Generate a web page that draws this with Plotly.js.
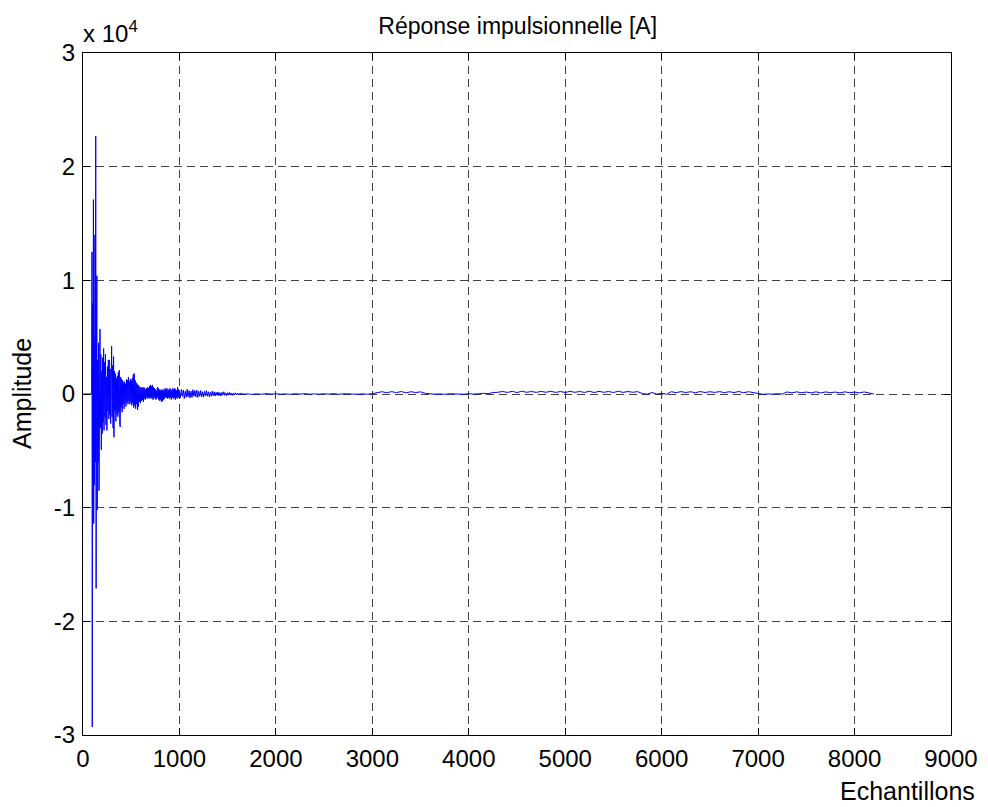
<!DOCTYPE html>
<html>
<head>
<meta charset="utf-8">
<script src="https://cdn.plot.ly/plotly-3.0.1.min.js"></script>
<style>html,body{margin:0;padding:0;background:#fff;}#chart{width:988px;height:807px;}</style>
</head>
<body>
<div id="chart"></div>
<script>
// Early part of the impulse response: sample index and amplitude
var earlySamples = [1,85,90,93,96,100,104,108,111,115,119,124,128,132,136,140,144,148,152,157,162,166,171,176,180,185,190,195,199,204,209,214,218,223,228,233,238,243,248,253,258,263,268,272,277,282,287,292,297,302,307,312,317,321,326,331,336,341,346,351,356,361,366,371,376,381,386,391,396,401,406,411,416,421,426,431,436,441,446,451,456,461,466,471,476,481,486,491,496,501,506,511,516,521,526,531,536,541,546,551,556,561,566,571,576,581,586,591,596,601,606,611,616,621,626,631,636,641,646,651,656,661,666,671,676,681,686,691,696,701,706,711,716,721,726,731,736,741,746,751,756,761,766,771,776,781,786,791,796,801,806,811,816,821,826,831,836,841,846,851,856,861,866,871,876,881,886,891,896,901,906,911,916,921,926,931,936,941,946,951,956,961,966,971,976,981,986,991,996];
var earlyAmplitude = [0,0,0,12500,-29300,8000,-11000,17100,-11400,5000,-8000,14000,-6000,22700,-17100,6000,10400,-10200,3000,-6000,4500,-8500,2500,5700,-3000,3500,-4900,2000,-3500,3200,-2500,4000,-3200,2800,-2000,3500,-2700,1500,-3200,2400,-1500,3000,-2200,3000,-1800,2200,-2600,3000,4200,-2000,2500,-3000,3300,-3800,2000,-1500,1800,-2400,1400,-1800,1600,-2000,1900,-1600,2100,-2700,-2900,1500,-1200,1300,-1600,1200,-900,1000,-1300,1100,-800,900,-1100,1300,-700,1200,-900,1500,-600,1100,-900,1300,-700,1200,-1000,1400,-800,1700,-1200,1800,-1000,1200,-1300,1000,-900,900,-1400,800,-1100,700,-700,600,-800,500,-600,600,-500,500,-700,600,-400,500,-500,400,-300,500,-400,600,-300,500,-400,700,-300,800,-400,700,-300,800,-500,600,-400,500,-300,400,-500,300,-400,600,-300,500,-500,400,-600,300,-500,400,-700,300,-600,400,-500,300,-400,500,-300,400,-300,500,-400,300,-300,400,-400,500,-300,400,-500,300,-300,500,-400,400,-300,500,-500,400,-300,300,-400,600,-300,400,-300];

// Middle part: samples 1000..1690, one value every 10 samples
var midStart = 1000, midStep = 10;
var midAmplitude = [300,-350,400,-200,350,-400,250,-300,420,-250,
  300,-350,250,-300,380,-200,300,-250,350,-300,
  250,-200,300,-250,200,-280,250,-150,300,-200,
  200,-250,150,-200,250,-150,200,-180,150,-120,
  180,-150,120,-180,150,-100,200,-120,100,-150,
  120,-80,150,-100,90,-120,80,-60,100,-90,
  70,-80,60,-50,90,-60,50,-70,40,-50];

// Tail: samples 1700..8200, one value every 50 samples
var tailStart = 1700, tailStep = 50;
var tailAmplitude = [20,-30,10,-20,30,-10,20,-20,10,-30,20,-10,30,-20,10,-20,20,-10,30,-30,20,-10,20,-20,10,-20,30,
  120,200,110,210,120,220,100,200,130,190,60,
  20,-20,10,-30,20,-10,20,-20,30,-10,20,
  60,20,130,150,
  220,140,230,130,240,150,220,140,230,150,240,140,220,130,230,150,220,140,240,130,230,150,220,130,240,140,220,150,210,
  40,-20,130,-10,60,-20,
  200,120,210,130,200,110,220,130,200,140,210,120,200,130,220,110,200,130,
  20,-30,10,-20,30,-10,
  180,100,190,110,170,100,190,90,180,120,170,100,190,110,170,100,180,90,
  0];

var xTicks = [0,1000,2000,3000,4000,5000,6000,7000,8000,9000];
var yTicks = [-30000,-20000,-10000,0,10000,20000,30000];
var yTickLabels = ['-3','-2','-1','0','1','2','3'];

var xs = earlySamples.slice(), ys = earlyAmplitude.slice();
midAmplitude.forEach(function(v,i){ xs.push(midStart + i*midStep); ys.push(v); });
tailAmplitude.forEach(function(v,i){ xs.push(tailStart + i*tailStep); ys.push(v); });

var fam = 'Liberation Sans, Arial, sans-serif';

var trace = {x: xs, y: ys, type: 'scatter', mode: 'lines',
  line: {color: '#0000ff', width: 1}, hoverinfo: 'skip'};

var axisCommon = {
  showline: true, linecolor: '#000', linewidth: 1, mirror: 'ticks',
  ticks: 'inside', ticklen: 7, tickcolor: '#000', tickwidth: 1,
  showgrid: true, gridcolor: '#444', griddash: '8px,5px', gridwidth: 1,
  zeroline: false, tickfont: {family: fam, size: 24, color: '#000'}
};

var layout = {
  width: 988, height: 807,
  margin: {l: 83, r: 37, t: 53, b: 72},
  paper_bgcolor: '#fff', plot_bgcolor: '#fff',
  showlegend: false,
  title: {text: 'Réponse impulsionnelle [A]', font: {family: fam, size: 23, color: '#000'},
    x: 0.524, xanchor: 'center', y: 0.968, yanchor: 'middle'},
  xaxis: Object.assign({}, axisCommon, {range: [0, 9000], tickvals: xTicks, ticktext: xTicks.map(String), ticklabelstandoff: 2}),
  yaxis: Object.assign({}, axisCommon, {range: [-30000, 30000], tickvals: yTicks, ticktext: yTickLabels, ticklabelstandoff: 2}),
  annotations: [
    {text: 'x 10<sup>4</sup>', xref: 'paper', yref: 'paper', x: 0, y: 1, xanchor: 'left', yanchor: 'bottom',
     yshift: 4, xshift: -2, showarrow: false, font: {family: fam, size: 24, color: '#000'}},
    {text: 'Echantillons', xref: 'paper', yref: 'paper', x: 1.03, y: 0, xanchor: 'right', yanchor: 'top',
     yshift: -40, showarrow: false, font: {family: fam, size: 25, color: '#000'}},
    {text: 'Amplitude', xref: 'paper', yref: 'paper', x: 0, y: 0.5, xanchor: 'center', yanchor: 'middle',
     xshift: -61, textangle: -90, showarrow: false, font: {family: fam, size: 25, color: '#000'}}
  ]
};

Plotly.newPlot('chart', [trace], layout, {displayModeBar: false, staticPlot: true});
</script>
</body>
</html>
